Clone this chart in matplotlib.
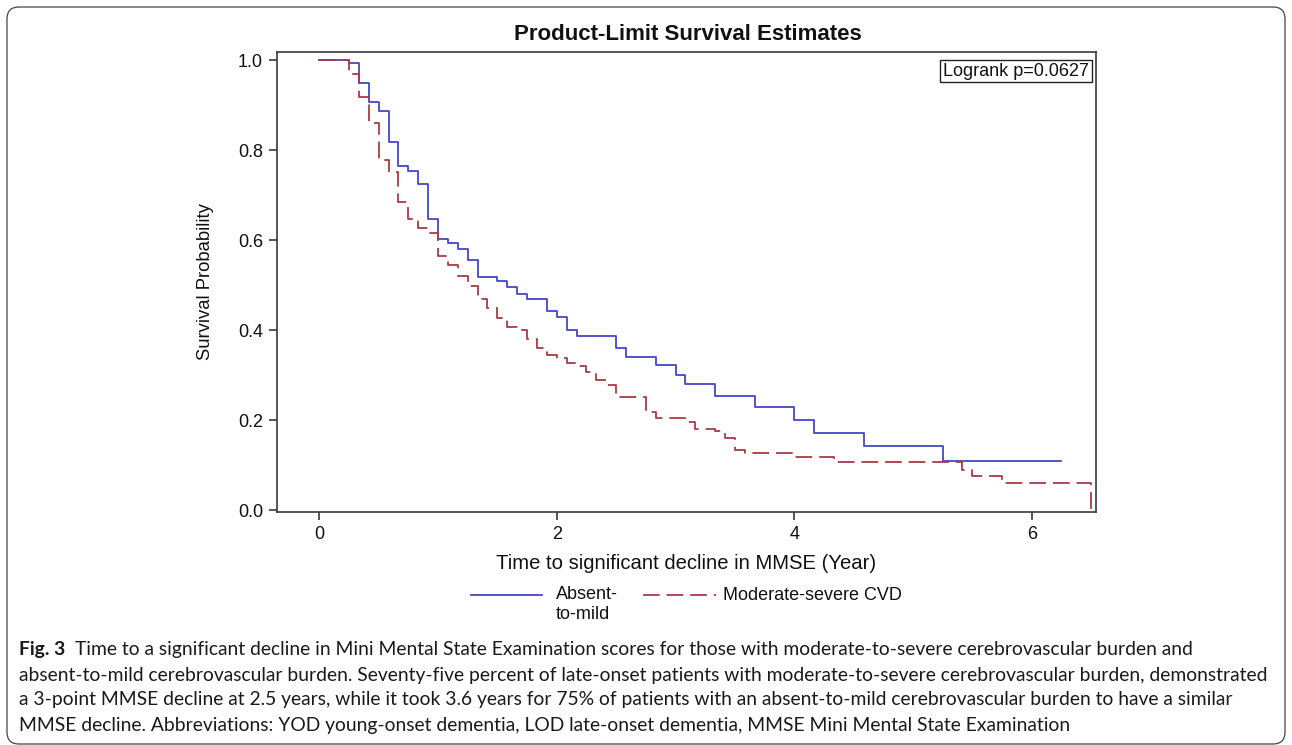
import matplotlib
matplotlib.use('Agg')
import matplotlib.pyplot as plt
from matplotlib.lines import Line2D
from matplotlib.patches import FancyBboxPatch
from matplotlib.transforms import IdentityTransform
import numpy as np

W, H, DPI = 1292, 745, 100

# ---------------- data ----------------
blue_label = "Absent-\nto-mild"
red_label = "Moderate-severe CVD"
blue_months = [0, 3, 4, 5, 6, 7, 8, 9, 10, 11, 12, 13, 14, 15, 16, 18, 19, 20, 21,
               23, 24, 25, 26, 30, 31, 34, 36, 37, 40, 44, 48, 50, 55, 63, 75]
blue_surv = [1.0, 0.993, 0.948, 0.907, 0.887, 0.817, 0.765, 0.754, 0.724, 0.646,
             0.602, 0.593, 0.580, 0.556, 0.518, 0.509, 0.495, 0.481, 0.470,
             0.443, 0.428, 0.401, 0.387, 0.359, 0.341, 0.322, 0.300, 0.279,
             0.254, 0.228, 0.200, 0.172, 0.143, 0.109, 0.109]
red_months = [0] + list(range(3, 31)) + [33, 34, 37, 38, 40, 41, 42, 43, 48, 52, 65, 66, 69, 78]
red_surv = [1.0, 0.969, 0.918, 0.859, 0.778, 0.752, 0.685, 0.646, 0.626, 0.615,
            0.564, 0.545, 0.520, 0.497, 0.468, 0.448, 0.426, 0.407, 0.400, 0.381,
            0.359, 0.344, 0.337, 0.326, 0.320, 0.307, 0.289, 0.278, 0.252,
            0.218, 0.204, 0.195, 0.180, 0.176, 0.161, 0.133, 0.126, 0.117,
            0.107, 0.090, 0.076, 0.061, 0.0]
x_ticks = [0, 2, 4, 6]
y_ticks = [0.0, 0.2, 0.4, 0.6, 0.8, 1.0]
title = "Product-Limit Survival Estimates"
xlabel = "Time to significant decline in MMSE (Year)"
ylabel = "Survival Probability"
logrank = "Logrank p=0.0627"
caption_bold = "Fig. 3"
caption_lines = [
    "Time to a significant decline in Mini Mental State Examination scores for those with moderate-to-severe cerebrovascular burden and",
    "absent-to-mild cerebrovascular burden. Seventy-five percent of late-onset patients with moderate-to-severe cerebrovascular burden, demonstrated",
    "a 3-point MMSE decline at 2.5 years, while it took 3.6 years for 75% of patients with an absent-to-mild cerebrovascular burden to have a similar",
    "MMSE decline. Abbreviations: YOD young-onset dementia, LOD late-onset dementia, MMSE Mini Mental State Examination",
]

BLUE = '#4646c8'
RED = '#a83a44'
FRAME = '#3a3a3a'

plt.rcParams['font.family'] = ['Liberation Sans', 'DejaVu Sans']
plt.rcParams['lines.scale_dashes'] = False

fig = plt.figure(figsize=(W / DPI, H / DPI), dpi=DPI)
fig.patch.set_facecolor('white')

# outer rounded border
border = FancyBboxPatch((7, 1), 1285 - 7, 738 - 1,
                        boxstyle='round,pad=0,rounding_size=12',
                        transform=IdentityTransform(), facecolor='none',
                        edgecolor='#444444', linewidth=0.9)
fig.add_artist(border)

ax = fig.add_axes([277 / W, 1 - 512 / H, (1096 - 277) / W, (512 - 52) / H])

bt = np.array(blue_months) / 12.0
rt = np.array(red_months) / 12.0
ax.step(bt, blue_surv, where='post', color=BLUE, lw=1.3)
ax.step(rt, red_surv, where='post', color=RED, lw=1.3, dashes=(12, 5))

ax.set_xlim(-0.356, 6.541)
ax.set_ylim(-0.0044, 1.0178)
ax.set_xticks(x_ticks)
ax.set_xticklabels([str(v) for v in x_ticks])
ax.set_yticks(y_ticks)
ax.set_yticklabels([f"{v:.1f}" for v in y_ticks])
for s in ax.spines.values():
    s.set_color(FRAME)
    s.set_linewidth(1.2)
ax.tick_params(axis='both', direction='out', length=6, width=1.2, color=FRAME,
               labelsize=13, labelcolor='#111111', pad=4)

ax.set_xlabel(xlabel, fontsize=14.6, color='#111111', labelpad=8)
ax.set_ylabel(ylabel, fontsize=13.3, color='#111111', labelpad=17)
fig.text(688 / W, 1 - 34 / H, title, fontsize=16, fontweight='bold',
         ha='center', va='center', color='#111111')

ax.text(0.9915, 0.977, logrank, transform=ax.transAxes, ha='right', va='top',
        fontsize=13, color='#111111',
        bbox=dict(boxstyle='square,pad=0.15', facecolor='white',
                  edgecolor='#222222', linewidth=1.0))

# legend (below the plot)
ly = 1 - 595 / H
fig.add_artist(Line2D([471 / W, 542 / W], [ly, ly], transform=fig.transFigure,
                      color=BLUE, lw=1.3))
fig.add_artist(Line2D([643 / W, 716 / W], [ly, ly], transform=fig.transFigure,
                      color=RED, lw=1.3, dashes=(12, 5)))
fig.text(556 / W, 1 - 586 / H, blue_label, fontsize=13, ha='left', va='top',
         color='#111111', linespacing=1.25)
fig.text(723 / W, ly, red_label, fontsize=13, ha='left', va='center',
         color='#111111')

# caption
cap_font = ['Lato', 'DejaVu Sans']
base = 12.0
ys = [650, 675, 700, 725]
fig.canvas.draw()
r = fig.canvas.get_renderer()
widths = []
for line in caption_lines[1:3]:
    probe = fig.text(0, 0, line, fontsize=base, family=cap_font)
    widths.append(probe.get_window_extent(r).width)
    probe.remove()
fs = base * (1244 / max(widths))

tb = fig.text(19 / W, 1 - ys[0] / H, caption_bold, fontsize=fs, family=cap_font,
              fontweight='bold', ha='left', va='center', color='#1a1a1a')
fig.canvas.draw()
bx1 = tb.get_window_extent(r).x1
fig.text((bx1 + 10) / W, 1 - ys[0] / H, caption_lines[0], fontsize=fs,
         family=cap_font, ha='left', va='center', color='#1a1a1a')
for line, y in zip(caption_lines[1:], ys[1:]):
    fig.text(19 / W, 1 - y / H, line, fontsize=fs, family=cap_font,
             ha='left', va='center', color='#1a1a1a')

fig.savefig('out.png', dpi=DPI, facecolor='white')
